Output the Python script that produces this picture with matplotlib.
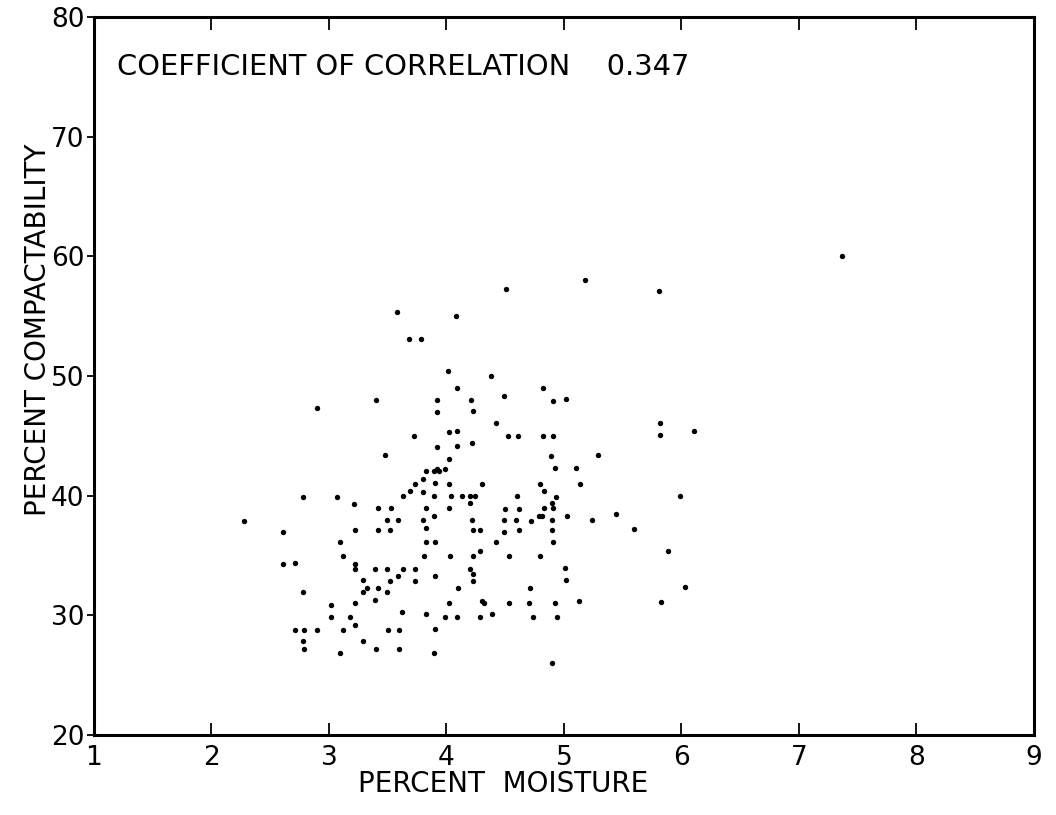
import matplotlib
matplotlib.use("Agg")
import matplotlib.pyplot as plt

# Percent moisture (x) and percent compactability (y)
moisture = [
    3.58, 3.68, 3.78, 3.40, 2.90, 3.72, 3.48,
    5.18, 4.51, 4.08, 4.01, 4.38, 4.09, 4.82, 3.92, 4.21, 4.49, 4.91, 5.02,
    3.92, 4.23, 4.42, 4.02, 4.09, 4.52, 4.61, 4.82, 4.91, 4.09, 4.22, 3.92,
    4.02, 4.89, 5.29, 4.92, 5.10, 3.92, 3.99, 3.89, 3.94,
    3.83, 3.80, 3.73, 3.69, 3.80, 3.63, 2.78, 3.07, 3.21, 3.42, 3.53, 3.83,
    2.28, 3.49, 3.59, 3.80, 3.83, 2.61, 3.22, 3.42, 3.52, 3.09, 3.83, 3.12,
    3.81, 2.61, 2.71, 3.22, 3.22, 3.39, 3.49, 3.63, 3.73, 3.29, 3.52, 3.59,
    3.73, 2.78, 3.29, 3.32, 3.42, 3.49, 3.39, 3.02, 3.22, 3.62, 3.83, 3.02,
    3.18, 3.22, 2.71, 2.79, 2.90, 3.12, 3.50, 3.60, 2.78, 3.29, 2.79, 3.09,
    3.40, 3.60,
    3.90, 4.02, 4.30, 4.80, 5.14, 3.89, 4.04, 4.13, 4.20, 4.24, 4.60, 4.83,
    4.93, 4.20, 4.90, 4.02, 4.50, 4.62, 4.83, 4.91, 3.89, 4.22, 4.49, 4.59,
    4.72, 4.81, 4.79, 4.90, 5.03, 5.24, 5.44, 4.23, 4.29, 4.49, 4.62, 4.90,
    3.90, 4.42, 4.91, 4.29, 4.03, 4.23, 4.53, 4.80, 4.20, 5.01, 3.90, 4.23,
    4.23, 5.02, 4.10, 4.71, 4.30, 4.32, 4.02, 4.53, 4.70, 4.92, 5.13, 3.99,
    4.09, 4.29, 4.39, 4.74, 4.94, 3.90, 3.89, 4.90,
    7.37, 5.81, 5.82, 5.82, 6.11, 5.99, 5.60, 5.89, 6.03, 5.83,
]
compactability = [
    55.4, 53.1, 53.1, 48.0, 47.3, 45.0, 43.4,
    58.0, 57.3, 55.0, 50.4, 50.0, 49.0, 49.0, 48.0, 48.0, 48.3, 47.9, 48.1,
    47.0, 47.1, 46.1, 45.3, 45.4, 45.0, 45.0, 45.0, 45.0, 44.2, 44.4, 44.1,
    43.1, 43.3, 43.4, 42.3, 42.3, 42.2, 42.2, 42.1, 42.1,
    42.1, 41.4, 41.0, 40.4, 40.3, 40.0, 39.9, 39.9, 39.3, 39.0, 39.0, 39.0,
    37.9, 38.0, 38.0, 38.0, 37.3, 37.0, 37.1, 37.1, 37.1, 36.1, 36.1, 35.0,
    35.0, 34.3, 34.4, 34.3, 33.9, 33.9, 33.9, 33.9, 33.9, 33.0, 32.9, 33.3,
    32.9, 32.0, 32.0, 32.3, 32.3, 32.0, 31.3, 30.9, 31.0, 30.3, 30.1, 29.9,
    29.9, 29.2, 28.8, 28.8, 28.8, 28.8, 28.8, 28.8, 27.9, 27.9, 27.2, 26.9,
    27.2, 27.2,
    41.1, 41.0, 41.0, 41.0, 41.0, 40.0, 40.0, 40.0, 40.0, 40.0, 40.0, 40.4,
    39.9, 39.4, 39.4, 39.0, 38.9, 38.9, 39.0, 39.0, 38.3, 38.0, 38.0, 38.0,
    37.9, 38.3, 38.3, 38.0, 38.3, 38.0, 38.5, 37.1, 37.1, 37.0, 37.1, 37.1,
    36.1, 36.1, 36.1, 35.4, 35.0, 35.0, 35.0, 35.0, 33.9, 34.0, 33.3, 33.5,
    32.9, 33.0, 32.3, 32.3, 31.2, 31.0, 31.0, 31.0, 31.0, 31.0, 31.2, 29.9,
    29.9, 29.9, 30.1, 29.9, 29.9, 28.9, 26.9, 26.0,
    60.0, 57.1, 46.1, 45.1, 45.4, 40.0, 37.2, 35.4, 32.4, 31.1,
]

x_ticks = [1, 2, 3, 4, 5, 6, 7, 8, 9]
y_ticks = [20, 30, 40, 50, 60, 70, 80]
x_label = "PERCENT  MOISTURE"
y_label = "PERCENT COMPACTABILITY"
annotation = "COEFFICIENT OF CORRELATION    0.347"

plt.rcParams["font.family"] = ["DejaVu Sans"]

fig = plt.figure(figsize=(10.56, 8.15), dpi=100)
ax = fig.add_axes([0.089, 0.098, 0.890, 0.881])

ax.scatter(moisture, compactability, s=15, c="black", marker="o", linewidths=0)

ax.set_xlim(1, 9)
ax.set_ylim(20, 80)
ax.set_xticks(x_ticks)
ax.set_yticks(y_ticks)
ax.tick_params(axis="x", direction="in", length=9, width=1.3, top=True, bottom=True,
               labelsize=19, pad=7)
ax.tick_params(axis="y", direction="out", length=5, width=1.3, left=True, right=False,
               labelsize=19, pad=2)
for s in ax.spines.values():
    s.set_linewidth(2.2)

xl = ax.set_xlabel(x_label, fontsize=20)
yl = ax.set_ylabel(y_label, fontsize=20)
ax.xaxis.set_label_coords(0.435, -0.048)
ax.yaxis.set_label_coords(-0.045, 0.564)
ann = ax.text(0.025, 0.93, annotation, transform=ax.transAxes, fontsize=20,
              ha="left", va="center")

# fit text lengths to the lengths seen in the reference (pixels)
fig.canvas.draw()
r = fig.canvas.get_renderer()
for t, target in [(ann, 572), (xl, 290)]:
    bb = t.get_window_extent(r)
    t.set_fontsize(t.get_fontsize() * target / bb.width)
yl.set_fontsize(xl.get_fontsize())

fig.savefig("out.png", dpi=100)
